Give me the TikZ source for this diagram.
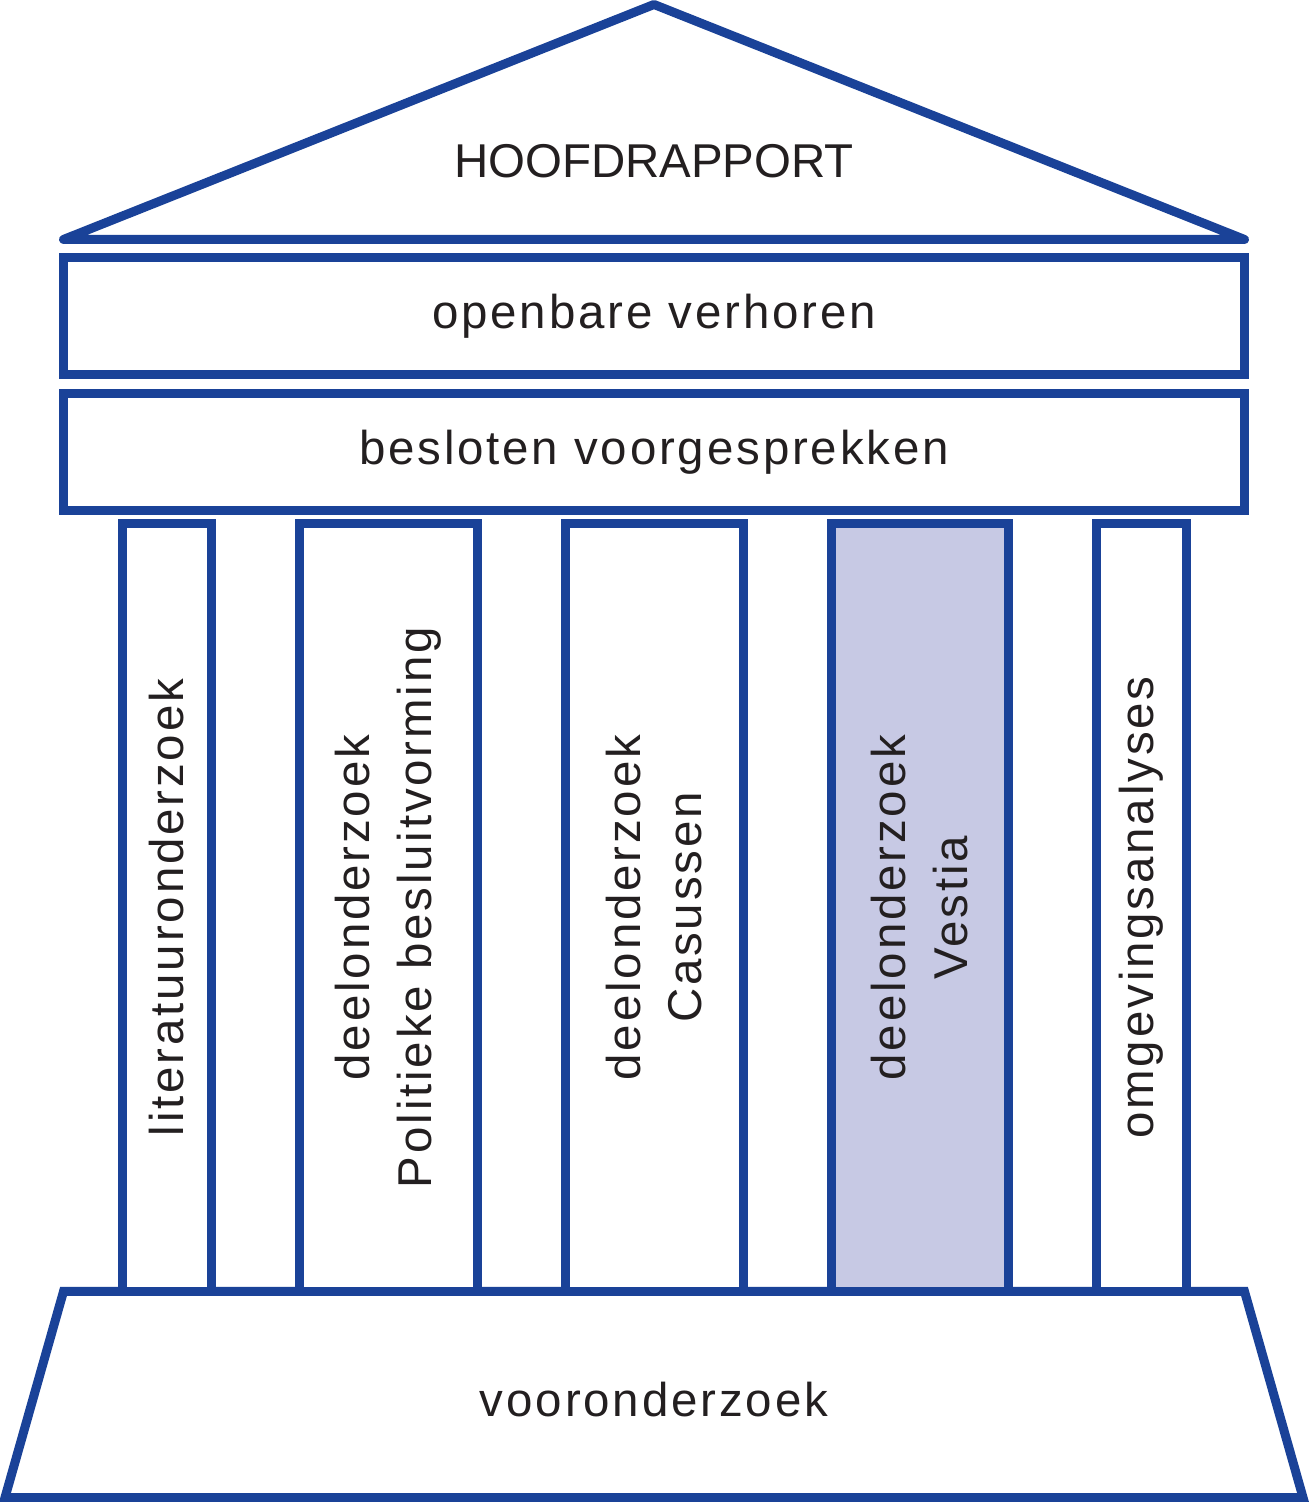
\documentclass[tikz,border=0pt]{standalone}
\usepackage{fontspec}
\setmainfont{Liberation Sans}[LetterSpace=6]
\definecolor{templeblue}{RGB}{26,66,152}
\definecolor{vestiafill}{RGB}{199,201,228}
\definecolor{inkgray}{RGB}{35,31,32}

\begin{document}
\begin{tikzpicture}[
  part/.style={
    draw=templeblue, line width=0.09cm, fill=white,
    inner sep=0pt, text=inkgray,
    font=\fontsize{13.5}{17.6}\selectfont,
  },
  band/.style={part, minimum width=11.81cm, minimum height=1.175cm},
  pillar/.style={part, rotate=90, minimum width=7.68cm, align=center},
  roofline/.style={draw=templeblue, line width=0.09cm, line join=round},
  lbl/.style={text=inkgray, inner sep=0pt, font=\fontsize{13.5}{17.6}\selectfont},
]

\useasboundingbox (0,0) rectangle (13.08,15.02);

% ── roof ─────────────────────────────────────────────────
\draw[roofline, fill=white] (0.635,12.625) -- (6.54,14.975) -- (12.445,12.625) -- cycle;
\node[lbl, font=\fontsize{13.5}{16}\selectfont\addfontfeatures{LetterSpace=0}]
  (hoofd) at (6.54,13.41) {HOOFDRAPPORT};

% ── beams ────────────────────────────────────────────────
\node[band] (verhoren) at (6.54,11.8575) {openbare verhoren};
\node[band] (voorgesprek) at (6.54,10.4975) {besloten voorgesprekken};

% ── base ─────────────────────────────────────────────────
\draw[part] (0.635,2.105) -- (12.445,2.105) -- (13.03,0.045) -- (0.05,0.045) -- cycle;
\node[lbl] (vooronderzoek) at (6.54,1.025) {vooronderzoek};

% ── pillars (x centre / width / text) ────────────────────
\foreach \i/\x/\w/\txt in {
    1/1.6675/0.895/{literatuuronderzoek},
    2/3.8825/1.775/{deelonderzoek\\Politieke besluitvorming},
    3/6.54/1.78/{deelonderzoek\\Casussen},
    5/11.4125/0.895/{omgevingsanalyses}}
  \node[pillar, minimum height=\w cm] (p\i) at (\x,5.945) {\txt};

% ── the one under study ──────────────────────────────────
\node[pillar, fill=vestiafill, minimum height=1.775cm] (p4) at (9.1975,5.945)
  {deelonderzoek\\Vestia};

\end{tikzpicture}
\end{document}
